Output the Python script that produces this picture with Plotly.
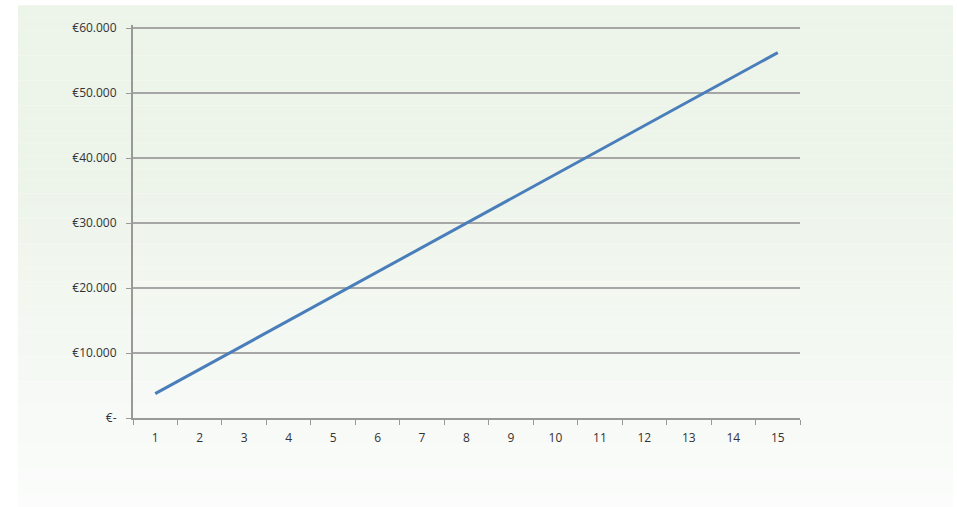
import plotly.graph_objects as go

periods = list(range(1, 16))
values = [3750, 7500, 11250, 15000, 18750, 22500, 26250, 30000,
          33750, 37500, 41250, 45000, 48750, 52500, 56250]
y_tickvals = [0, 10000, 20000, 30000, 40000, 50000, 60000]
y_ticktext = ["€-", "€10.000", "€20.000", "€30.000", "€40.000", "€50.000", "€60.000"]

W, H = 957, 507
L, R, T, B = 133, 800, 28, 418
pw, ph = R - L, B - T
YMAX = 60500
top_margin = T - (YMAX - 60000) / 60000 * ph

def px(x):
    return (x - L) / pw

def py(y):
    return (B - y) / (B - top_margin)

fig = go.Figure()
fig.add_trace(go.Scatter(
    x=[str(p) for p in periods], y=values, mode="lines",
    line=dict(color="#4a7ebb", width=3), showlegend=False,
))

# background gradient panel (light green fading to white)
shapes = []
n = 40
top, bot = 5, 507
c0 = (237, 244, 234)
c1 = (251, 252, 251)
for i in range(n):
    y0 = top + (bot - top) * i / n
    y1 = top + (bot - top) * (i + 1) / n
    t = i / (n - 1)
    t = max(0.0, (t - 0.35) / 0.65)
    c = tuple(int(round(a + (b - a) * t)) for a, b in zip(c0, c1))
    shapes.append(dict(
        type="rect", xref="paper", yref="paper", layer="below",
        x0=px(18), x1=px(953), y0=py(y1), y1=py(y0),
        fillcolor="rgb(%d,%d,%d)" % c, line=dict(width=0),
    ))

fig.update_layout(
    width=W, height=H,
    margin=dict(l=L, r=W - R, t=top_margin, b=H - B, pad=0),
    paper_bgcolor="white", plot_bgcolor="rgba(0,0,0,0)",
    shapes=shapes,
    font=dict(family="Open Sans, Liberation Sans, sans-serif", size=12, color="#333333"),
    xaxis=dict(
        type="category", range=[-0.5, 14.5], tickson="boundaries", ticks="outside", ticklen=5,
        tickcolor="#999999", showline=True, linecolor="#999999", linewidth=2,
        showgrid=False, tickfont=dict(size=12), ticklabelstandoff=8,
    ),
    yaxis=dict(
        range=[0, YMAX], tickvals=y_tickvals, ticktext=y_ticktext,
        ticks="outside", ticklen=5, tickcolor="#999999",
        showline=True, linecolor="#999999", linewidth=2,
        showgrid=True, gridcolor="#a6a6a6", gridwidth=2,
        zeroline=False, tickfont=dict(size=12), ticklabelstandoff=7,
    ),
)

fig.write_html(
    "out.html",
    config={"displayModeBar": False},
    post_script="document.body.style.margin='0';document.body.style.overflow='hidden';",
)
